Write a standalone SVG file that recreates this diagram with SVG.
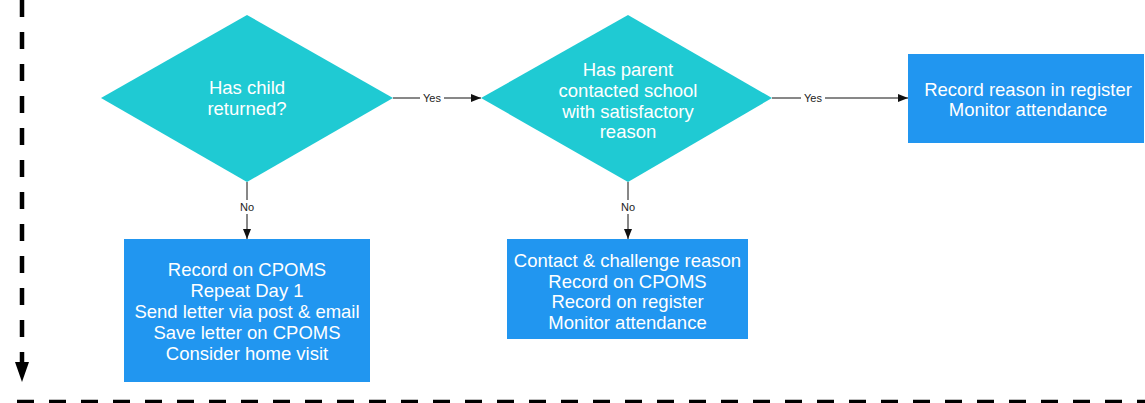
<svg xmlns="http://www.w3.org/2000/svg" width="1145" height="403" viewBox="0 0 1145 403">
<style>
.dia{fill:#1fcad3;}
.box{fill:#2196f0;}
.t{font-family:"Liberation Sans",Arial,sans-serif;font-size:18.5px;fill:#ffffff;text-anchor:middle;}
.lbl{font-family:"Liberation Sans",Arial,sans-serif;font-size:11px;fill:#222222;text-anchor:middle;}
.c{stroke:#111111;stroke-width:1;fill:none;}
.dash{stroke:#000000;stroke-width:4.5;fill:none;stroke-dasharray:17 15;}
</style>
<defs>
<marker id="ah" markerWidth="10" markerHeight="8" refX="10" refY="4" orient="auto" markerUnits="userSpaceOnUse">
<path d="M0,0 L10,4 L0,8 Z" fill="#111111"/>
</marker>
</defs>
<rect width="1145" height="403" fill="#ffffff"/>
<g id="border">
<line class="dash" x1="22" y1="0" x2="22" y2="362"/>
<path d="M15,362 L29,362 L22,382 Z" fill="#000000"/>
<line class="dash" x1="17" y1="402" x2="1145" y2="402"/>
</g>
<g id="connectors">
<line class="c" x1="393" y1="98" x2="481" y2="98" marker-end="url(#ah)"/>
<rect x="420" y="91" width="24" height="14" fill="#ffffff"/>
<text class="lbl" x="432" y="102">Yes</text>
<line class="c" x1="772" y1="98" x2="908" y2="98" marker-end="url(#ah)"/>
<rect x="801" y="91" width="24" height="14" fill="#ffffff"/>
<text class="lbl" x="813" y="102">Yes</text>
<line class="c" x1="247" y1="182" x2="247" y2="239" marker-end="url(#ah)"/>
<rect x="237" y="200" width="20" height="14" fill="#ffffff"/>
<text class="lbl" x="247" y="211">No</text>
<line class="c" x1="628" y1="182" x2="628" y2="239" marker-end="url(#ah)"/>
<rect x="618" y="200" width="20" height="14" fill="#ffffff"/>
<text class="lbl" x="628" y="211">No</text>
</g>
<g id="d1">
<polygon class="dia" points="247,15 393,98 247,182 101,98"/>
<text class="t" x="247" y="94">Has child</text>
<text class="t" x="247" y="115">returned?</text>
</g>
<g id="d2">
<polygon class="dia" points="628,15 772,98 628,182 481,98"/>
<text class="t" x="628" y="76">Has parent</text>
<text class="t" x="628" y="97">contacted school</text>
<text class="t" x="628" y="118">with satisfactory</text>
<text class="t" x="628" y="138">reason</text>
</g>
<g id="r3">
<rect class="box" x="908" y="54" width="236" height="89"/>
<text class="t" x="1028" y="96">Record reason in register</text>
<text class="t" x="1028" y="116">Monitor attendance</text>
</g>
<g id="r1">
<rect class="box" x="124" y="239" width="246" height="143"/>
<text class="t" x="247" y="276">Record on CPOMS</text>
<text class="t" x="247" y="297">Repeat Day 1</text>
<text class="t" x="247" y="318">Send letter via post &amp; email</text>
<text class="t" x="247" y="339">Save letter on CPOMS</text>
<text class="t" x="247" y="360">Consider home visit</text>
</g>
<g id="r2">
<rect class="box" x="507" y="239" width="241" height="100"/>
<text class="t" x="627.5" y="267">Contact &amp; challenge reason</text>
<text class="t" x="627.5" y="288">Record on CPOMS</text>
<text class="t" x="627.5" y="308">Record on register</text>
<text class="t" x="627.5" y="329">Monitor attendance</text>
</g>
</svg>
